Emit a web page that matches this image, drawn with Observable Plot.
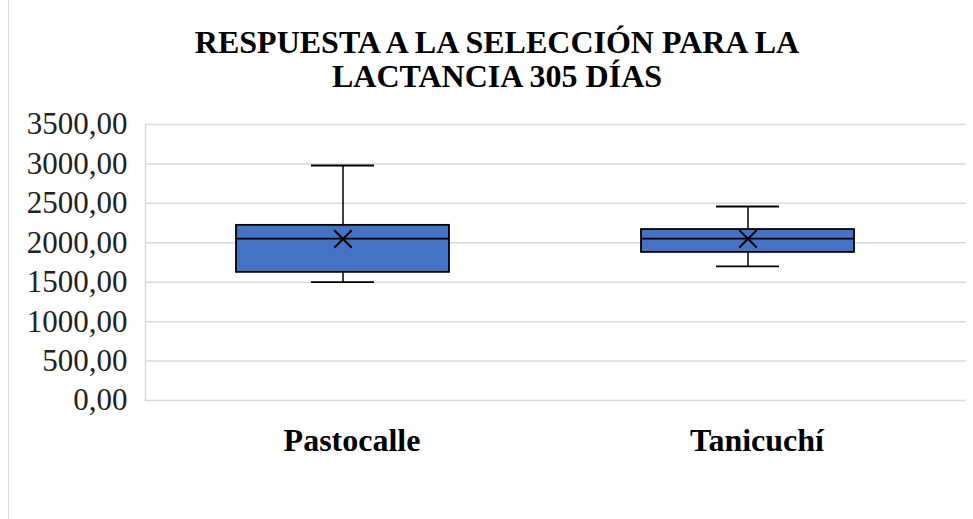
<!DOCTYPE html>
<html>
<head>
<meta charset="utf-8">
<script src="https://cdn.jsdelivr.net/npm/d3@7"></script>
<script src="https://cdn.jsdelivr.net/npm/@observablehq/plot@0.6"></script>
<style>
  html, body { margin: 0; padding: 0; background: #fff; }
  #wrap { position: relative; width: 973px; height: 519px; overflow: hidden; font-family: "Liberation Serif", "Times New Roman", serif; }
  #border { position: absolute; left: 8px; top: 0; width: 0; height: 519px; border-left: 1.5px solid #d9d9d9; }
  #title { position: absolute; left: 0; top: 0; width: 994px; text-align: center; font-weight: bold; font-size: 32px; line-height: 34px; padding-top: 25px; color: #000; }
  #chart { position: absolute; left: 0; top: 100px; }
</style>
</head>
<body>
<div id="wrap">
  <div id="border"></div>
  <div id="title">RESPUESTA A LA SELECCIÓN PARA LA<br>LACTANCIA 305 DÍAS</div>
  <div id="chart"></div>
</div>
<script>
const categories = ["Pastocalle", "Tanicuchí"];
const minimos   = [1500, 1700];
const q1        = [1625, 1878];
const medianas  = [2052, 2052];
const q3        = [2221, 2168];
const maximos   = [2980, 2460];
const medias    = [2048, 2050];
const yTicks    = [0, 500, 1000, 1500, 2000, 2500, 3000, 3500];

const data = categories.map((c, i) => ({
  cat: c, min: minimos[i], q1: q1[i], med: medianas[i], q3: q3[i], max: maximos[i], mean: medias[i]
}));

const fmt = d => d.toFixed(2).replace(".", ",");

const chart = Plot.plot({
  width: 973,
  height: 419,
  marginLeft: 145,
  marginRight: 7,
  marginTop: 24,
  marginBottom: 119,
  style: { fontFamily: "'Liberation Serif', 'Times New Roman', serif", background: "transparent", color: "#000" },
  x: { type: "band", domain: categories, range: [140, 950], padding: 0, label: null },
  y: { domain: [0, 3500], label: null },
  marks: [
    Plot.ruleY(yTicks, { stroke: "#d9d9d9", strokeWidth: 1.5 }),
    Plot.frame({ anchor: "left", stroke: "#d9d9d9", strokeWidth: 1.5 }),
    Plot.axisY({ ticks: yTicks, tickFormat: fmt, tickSize: 0, tickPadding: 18, fontSize: 31, label: null, fill: "#222" }),
    Plot.axisX({ tickSize: 0, tickPadding: 28, dx: 9, fontSize: 32, fontWeight: "bold", label: null }),
    Plot.ruleX(data, { x: "cat", y1: "min", y2: "max", stroke: "#000", strokeWidth: 1.5 }),
    Plot.tickY(data, { x: "cat", y: "max", stroke: "#000", strokeWidth: 1.8, insetLeft: 171, insetRight: 171 }),
    Plot.tickY(data, { x: "cat", y: "min", stroke: "#000", strokeWidth: 1.8, insetLeft: 171, insetRight: 171 }),
    Plot.rectY(data, { x: "cat", y1: "q1", y2: "q3", fill: "#4472C4", stroke: "#000", strokeWidth: 1.8, insetLeft: 96, insetRight: 96 }),
    Plot.tickY(data, { x: "cat", y: "med", stroke: "#000", strokeWidth: 1.8, insetLeft: 96, insetRight: 96 }),
    Plot.dot(data, { x: "cat", y: "mean", symbol: "times", r: 8, stroke: "#000", strokeWidth: 2 })
  ]
});
document.getElementById("chart").appendChild(chart);
</script>
</body>
</html>
